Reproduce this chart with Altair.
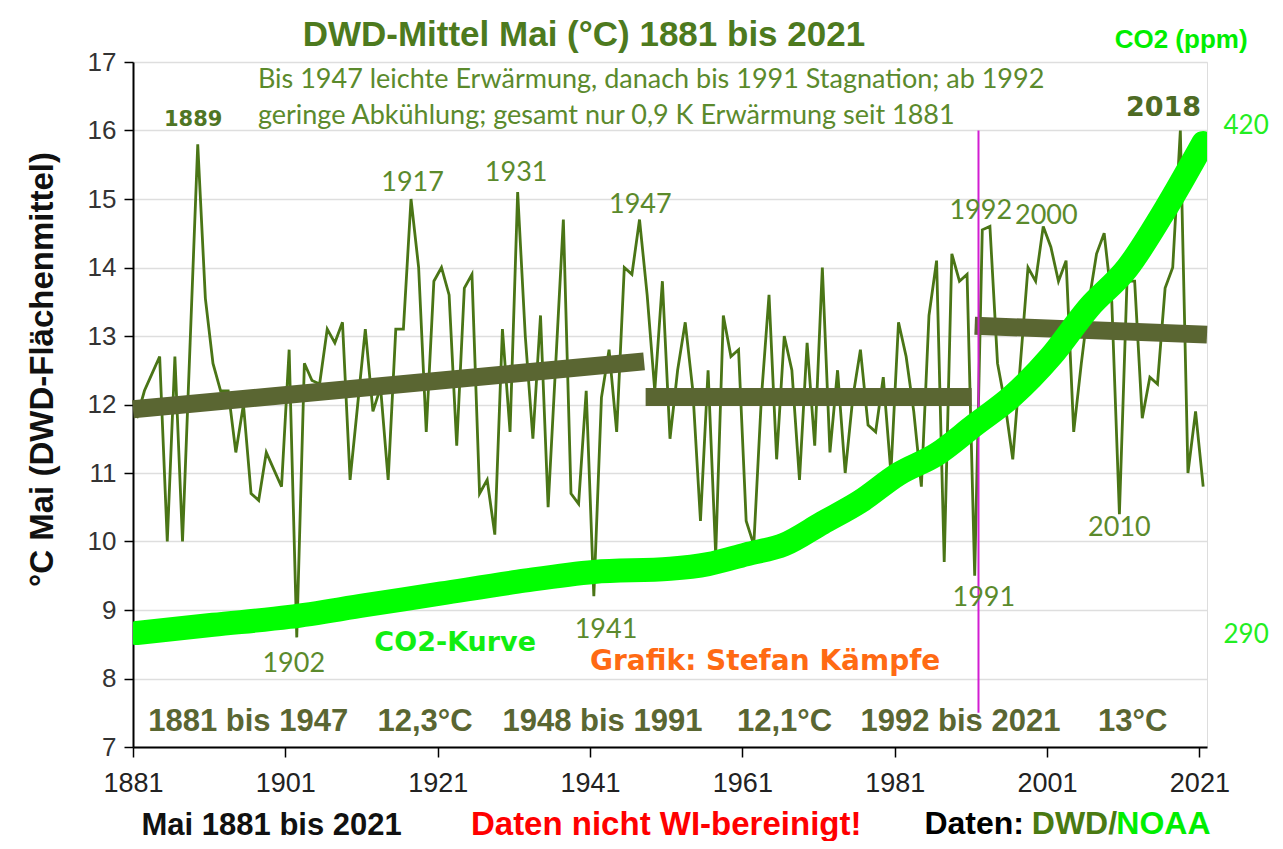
import altair as alt
import pandas as pd

# ---------------- data ----------------
years = list(range(1881, 2022))
temps = [
    11.8, 12.2, 12.45, 12.7, 10.0, 12.7, 10.0, 12.9, 15.8, 13.55,   # 1881-1890
    12.6, 12.2, 12.2, 11.3, 12.0, 10.7, 10.6, 11.3, 11.05, 10.8,    # 1891-1900
    12.8, 8.6, 12.6, 12.35, 12.3, 13.1, 12.9, 13.2, 10.9, 12.0,     # 1901-1910
    13.1, 11.9, 12.25, 10.9, 13.1, 13.1, 15.0, 14.0, 11.6, 13.8,    # 1911-1920
    14.0, 13.6, 11.4, 13.7, 13.9, 10.7, 10.9, 10.1, 13.1, 11.6,     # 1921-1930
    15.1, 13.0, 11.5, 13.3, 10.5, 12.6, 14.7, 10.7, 10.55, 12.2,    # 1931-1940
    9.2, 12.1, 12.8, 11.6, 14.0, 13.9, 14.7, 13.6, 12.2, 13.8,      # 1941-1950
    11.5, 12.5, 13.2, 12.2, 10.3, 12.5, 9.8, 13.3, 12.7, 12.8,      # 1951-1960
    10.3, 9.95, 12.1, 13.6, 11.2, 13.0, 12.5, 10.9, 12.9, 11.4,     # 1961-1970
    14.0, 11.3, 12.5, 11.0, 12.1, 12.8, 11.7, 11.6, 12.4, 11.0,     # 1971-1980
    13.2, 12.7, 11.9, 10.8, 13.3, 14.1, 9.7, 14.2, 13.8, 13.9,      # 1981-1990
    9.5, 14.55, 14.6, 12.6, 12.0, 11.2, 12.6, 14.0, 13.8, 14.6,     # 1991-2000
    14.3, 13.8, 14.1, 11.6, 12.6, 13.5, 14.2, 14.5, 13.5, 10.4,     # 2001-2010
    13.8, 13.8, 11.8, 12.4, 12.3, 13.7, 14.0, 16.0, 11.0, 11.9,     # 2011-2020
    10.8,                                                          # 2021
]

co2_years = [1881, 1891, 1901, 1911, 1921, 1931, 1941, 1951, 1956, 1961, 1966,
             1971, 1976, 1981, 1986, 1991, 1996, 2001, 2006, 2011, 2016, 2021]
co2_ppm = [290.4, 292.5, 294.5, 297.5, 300.5, 303.5, 306.0, 306.8, 308.0, 310.5, 313.0,
           318.5, 324.0, 331.0, 336.0, 343.5, 351.0, 361.0, 373.5, 383.5, 398.5, 415.5]

trend_start = [1880.5, 1947.8, 1991.0]
trend_end = [1947.6, 1990.6, 2021.5]
trend_v1 = [11.93, 12.11, 13.15]
trend_v2 = [12.63, 12.11, 13.02]

x_tick_labels = [1881, 1901, 1921, 1941, 1961, 1981, 2001, 2021]
y_ticks = list(range(7, 18))
co2_ticks = [290, 420]

# ---------------- scales & axes ----------------
XS = alt.Scale(domain=[1880.5, 2021.5], nice=False, zero=False)
YS = alt.Scale(domain=[7, 17], nice=False, zero=False)
CS = alt.Scale(domain=[261.3, 436.2], nice=False, zero=False)

OLIVE = "#5a6632"
LINEGREEN = "#4a7516"
TEXTGREEN = "#5b8a2c"
LIME = "#00ee00"

X_AXIS = alt.Axis(
    values=[v - 0.5 for v in x_tick_labels], labelExpr="datum.value + 0.5",
    grid=False, ticks=True, tickSize=10, tickColor="#000", tickWidth=1.5,
    domainColor="#000", domainWidth=2, labelFont="Liberation Sans",
    labelFontSize=27, labelColor="#222", labelPadding=13, title=None,
    labelFlush=False,
)
Y_AXIS = alt.Axis(
    values=y_ticks, grid=True, gridColor="#dedede", gridWidth=1.5,
    ticks=True, tickSize=9, tickColor="#000", tickWidth=1.5,
    domainColor="#000", domainWidth=2, labelFont="Liberation Sans",
    labelFontSize=26, labelColor="#333", labelPadding=8,
    title="°C Mai (DWD-Flächenmittel)", titleFont="Liberation Sans",
    titleFontSize=33, titleFontWeight="bold", titleColor="#111",
    titleX=-91, titleY=307, titleAngle=-90, titleAlign="center",
    titleBaseline="middle",
)

temp_df = pd.DataFrame({"year": years, "temp": temps})
co2_df = pd.DataFrame({"year": co2_years, "ppm": co2_ppm})
trend_df = pd.DataFrame({"x1": trend_start, "x2": trend_end, "y1": trend_v1, "y2": trend_v2})

temp_line = alt.Chart(temp_df).mark_line(color=LINEGREEN, strokeWidth=2.8).encode(
    x=alt.X("year:Q", scale=XS, axis=X_AXIS),
    y=alt.Y("temp:Q", scale=YS, axis=Y_AXIS),
)

trends = alt.Chart(trend_df).mark_rule(color=OLIVE, strokeWidth=18, strokeCap="butt").encode(
    x=alt.X("x1:Q", scale=XS, axis=X_AXIS), x2="x2:Q",
    y=alt.Y("y1:Q", scale=YS, axis=Y_AXIS), y2="y2:Q",
)

divider = alt.Chart(pd.DataFrame({"x": [1991.5], "y1": [16.0], "y2": [7.5]})).mark_rule(
    color="#d21ed2", strokeWidth=2).encode(
    x=alt.X("x:Q", scale=XS, axis=X_AXIS),
    y=alt.Y("y1:Q", scale=YS, axis=Y_AXIS), y2="y2:Q",
)


def texts(labels, xs, ys, **style):
    df = pd.DataFrame({"t": labels, "x": xs, "y": ys})
    return alt.Chart(df).mark_text(**style).encode(
        x=alt.X("x:Q", scale=XS, axis=X_AXIS),
        y=alt.Y("y:Q", scale=YS, axis=Y_AXIS),
        text="t:N",
    )


title_t = texts(["DWD-Mittel Mai (°C) 1881 bis 2021"], [1939.7], [17.39],
                font="Liberation Sans", fontSize=35, fontWeight="bold", color="#4d7a1e",
                baseline="middle")
co2_title = texts(["CO2 (ppm)"], [2018.1], [17.32],
                  font="Liberation Sans", fontSize=26, fontWeight="bold", color=LIME,
                  baseline="middle")
ann = texts(["Bis 1947 leichte Erwärmung, danach bis 1991 Stagnation; ab 1992",
             "geringe Abkühlung; gesamt nur 0,9 K Erwärmung seit 1881"],
            [1896.9, 1896.9], [16.74, 16.21],
            font="Lato", fontSize=27, color=TEXTGREEN, align="left", baseline="middle")
year_lbl = texts(["1917", "1931", "1947", "1992", "2000", "2010", "1991", "1941", "1902"],
                 [1917.2, 1930.8, 1947.1, 1991.8, 2000.4, 2010.0, 1992.2, 1942.6, 1901.6],
                 [15.23, 15.38, 14.91, 14.82, 14.75, 10.2, 9.18, 8.71, 8.21],
                 font="Lato", fontSize=27, color=TEXTGREEN, baseline="middle")
lbl_1889 = texts(["1889"], [1888.4], [16.15], font="DejaVu Sans", fontSize=21,
                 fontWeight="bold", color="#4f7524", baseline="middle")
lbl_2018 = texts(["2018"], [2015.8], [16.33], font="DejaVu Sans", fontSize=27,
                 fontWeight="bold", color="#4e6b24", baseline="middle")
co2_kurve = texts(["CO2-Kurve"], [1922.8], [8.52], font="DejaVu Sans", fontSize=27,
                  fontWeight="bold", color="#11ee11", baseline="middle")
grafik = texts(["Grafik: Stefan Kämpfe"], [1963.5], [8.24], font="DejaVu Sans", fontSize=28,
               fontWeight="bold", color="#ff6a13", baseline="middle")
seg = texts(["1881 bis 1947", "12,3°C", "1948 bis 1991", "12,1°C", "1992 bis 2021", "13°C"],
            [1882.5, 1912.6, 1929.0, 1959.8, 1976.0, 2007.2], [7.36] * 6,
            font="Liberation Sans", fontSize=31, fontWeight="bold", color=OLIVE,
            align="left", baseline="middle")
bottom1 = texts(["Mai 1881 bis 2021"], [1898.7], [5.84], font="Liberation Sans", fontSize=31,
                fontWeight="bold", color="#111", baseline="middle")
bottom2 = texts(["Daten nicht WI-bereinigt!"], [1950.5], [5.86], font="Liberation Sans",
                fontSize=33, fontWeight="bold", color="#ff0000", baseline="middle")
bottom3 = texts(["Daten:"], [1984.4], [5.88], font="Liberation Sans", fontSize=32,
                fontWeight="bold", color="#000", align="left", baseline="middle")
bottom4 = texts(["DWD/"], [1998.5], [5.88], font="Liberation Sans", fontSize=32,
                fontWeight="bold", color="#4a7a12", align="left", baseline="middle")
bottom5 = texts(["NOAA"], [2009.6], [5.88], font="Liberation Sans", fontSize=32,
                fontWeight="bold", color=LIME, align="left", baseline="middle")

temp_layer = alt.layer(
    temp_line, trends, divider, title_t, co2_title, ann, year_lbl, lbl_1889, lbl_2018,
    co2_kurve, grafik, seg, bottom1, bottom2, bottom3, bottom4, bottom5,
)

co2_line = alt.Chart(co2_df).mark_line(
    color="#00ff00", strokeWidth=24, interpolate="monotone", strokeCap="round", clip=True
).encode(
    x=alt.X("year:Q", scale=XS, axis=X_AXIS),
    y=alt.Y("ppm:Q", scale=CS, axis=alt.Axis(
        orient="right", values=co2_ticks, ticks=False, domain=False, grid=False,
        labelFont="Lato", labelFontSize=26, labelColor="#22ee22", labelPadding=16,
        title=None)),
)

chart = alt.layer(temp_layer, co2_line).resolve_scale(y="independent").properties(
    width=1074, height=685,
    autosize=alt.AutoSizeParams(type="none"),
    padding={"left": 125, "top": 54, "right": 68, "bottom": 94},
).configure_view(stroke="#707070", strokeWidth=2).configure(background="white")

chart.save("out.html", embed_options={"renderer": "svg", "actions": False})
